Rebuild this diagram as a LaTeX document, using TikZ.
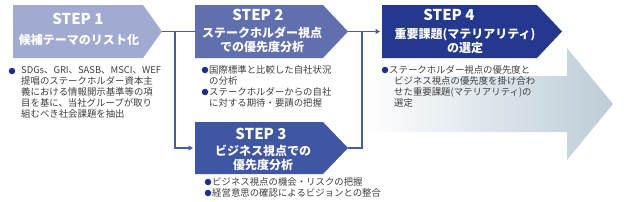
\documentclass[tikz,border=0pt]{standalone}
\usepackage{fontspec}
\newfontfamily\jpfont{Noto Sans CJK JP}
\usetikzlibrary{calc, arrows.meta}
\definecolor{stepone}{RGB}{161,170,208}
\definecolor{steptwo}{RGB}{96,111,174}
\definecolor{stepthree}{RGB}{62,86,164}
\definecolor{stepfour}{RGB}{36,56,143}
\definecolor{linkblue}{RGB}{72,90,168}
\definecolor{bulletblue}{RGB}{28,46,138}
\definecolor{bodygray}{RGB}{62,62,62}
\definecolor{arrowgray}{RGB}{188,204,214}

\begin{document}
\begin{tikzpicture}[x=1pt, y=-1pt,
    link/.style={draw=linkblue, line width=1.1pt},
    linkarrow/.style={link, -{Triangle[length=4.5pt,width=5pt]}, shorten >=2pt},
    steplabel/.style={font=\jpfont\bfseries\fontsize{15}{15}\selectfont, text=white, inner sep=0pt},
    steptitle/.style={font=\jpfont\bfseries\fontsize{12}{14}\selectfont, text=white, align=center, inner sep=0pt},
    bodytext/.style={font=\jpfont\fontsize{9.4}{11}\selectfont, text=bodygray, align=left, anchor=north west, inner sep=0pt},
    dot/.style={circle, fill=bulletblue, inner sep=0pt, minimum size=6.5pt}]
                \useasboundingbox (0,0) rectangle (624,201);
                \shade[left color=white, right color=arrowgray]
                    (365,76) -- (567,76) -- (567,48) -- (613,104) -- (567,160) -- (567,132) -- (365,132) -- cycle;
                \fill[stepone] (13,5) -- (143,5) -- (162,31.5) -- (143,58) -- (13,58) -- cycle;
                \fill[steptwo] (195,5) -- (323,5) -- (348,31.5) -- (323,58) -- (195,58) -- cycle;
                \fill[stepthree] (195,122) -- (323,122) -- (348,148) -- (323,174) -- (195,174) -- cycle;
                \fill[stepfour] (382,5) -- (537,5) -- (562,31.5) -- (537,58) -- (382,58) -- cycle;
                \coordinate (s1tip) at (162,31.5);
                \coordinate (s2in) at (195,31.5);
                \coordinate (s2tip) at (348,31.5);
                \coordinate (s3in) at (195,148);
                \coordinate (s3tip) at (348,148);
                \coordinate (s4in) at (382,31.5);
                \coordinate (fork) at (175,31.5);
                \coordinate (join) at (362,31.5);
                \draw[link] (s1tip) -- (s2in);
                \draw[linkarrow] (fork) |- (s3in);
                \draw[linkarrow] (s2tip) -- (s4in);
                \draw[link] (s3tip) -| (join);
                \node[steplabel] (l1) at (78,19) {STEP 1};
                \node[steptitle] (t1) at (79,40) {候補テーマのリスト化};
                \node[steplabel] (l2) at (258,15) {STEP 2};
                \node[steptitle] (t2) at (262,40) {ステークホルダー視点\\での優先度分析};
                \node[steplabel] (l3) at (261,134) {STEP 3};
                \node[steptitle] (t3) at (263,158) {ビジネス視点での\\優先度分析};
                \node[steplabel] (l4) at (449,15) {STEP 4};
                \node[steptitle] (t4) at (465,41) {重要課題(マテリアリティ)\\の選定};
                \node[dot] (d1) at (12,71) {};
                \node[bodytext] (b1) at (21,66) {SDGs、GRI、SASB、MSCI、WEF\\提唱のステークホルダー資本主\\義における情報開示基準等の項\\目を基に、当社グループが取り\\組むべき社会課題を抽出};
                \node[dot] (d2a) at (205,70) {};
                \node[bodytext] (b2a) at (209,65) {国際標準と比較した自社状況\\の分析};
                \node[dot] (d2b) at (205,92) {};
                \node[bodytext] (b2b) at (209,87) {ステークホルダーからの自社\\に対する期待・要請の把握};
                \node[dot] (d3a) at (208,182) {};
                \node[bodytext] (b3a) at (212,177) {ビジネス視点の機会・リスクの把握};
                \node[dot] (d3b) at (208,193) {};
                \node[bodytext] (b3b) at (212,188) {経営意思の確認によるビジョンとの整合};
                \node[dot] (d4) at (385,70) {};
                \node[bodytext] (b4) at (389,65) {ステークホルダー視点の優先度と\\\hspace{5pt}ビジネス視点の優先度を掛け合わ\\\hspace{5pt}せた重要課題(マテリアリティ)の\\\hspace{5pt}選定};
            \end{tikzpicture}
\end{document}
